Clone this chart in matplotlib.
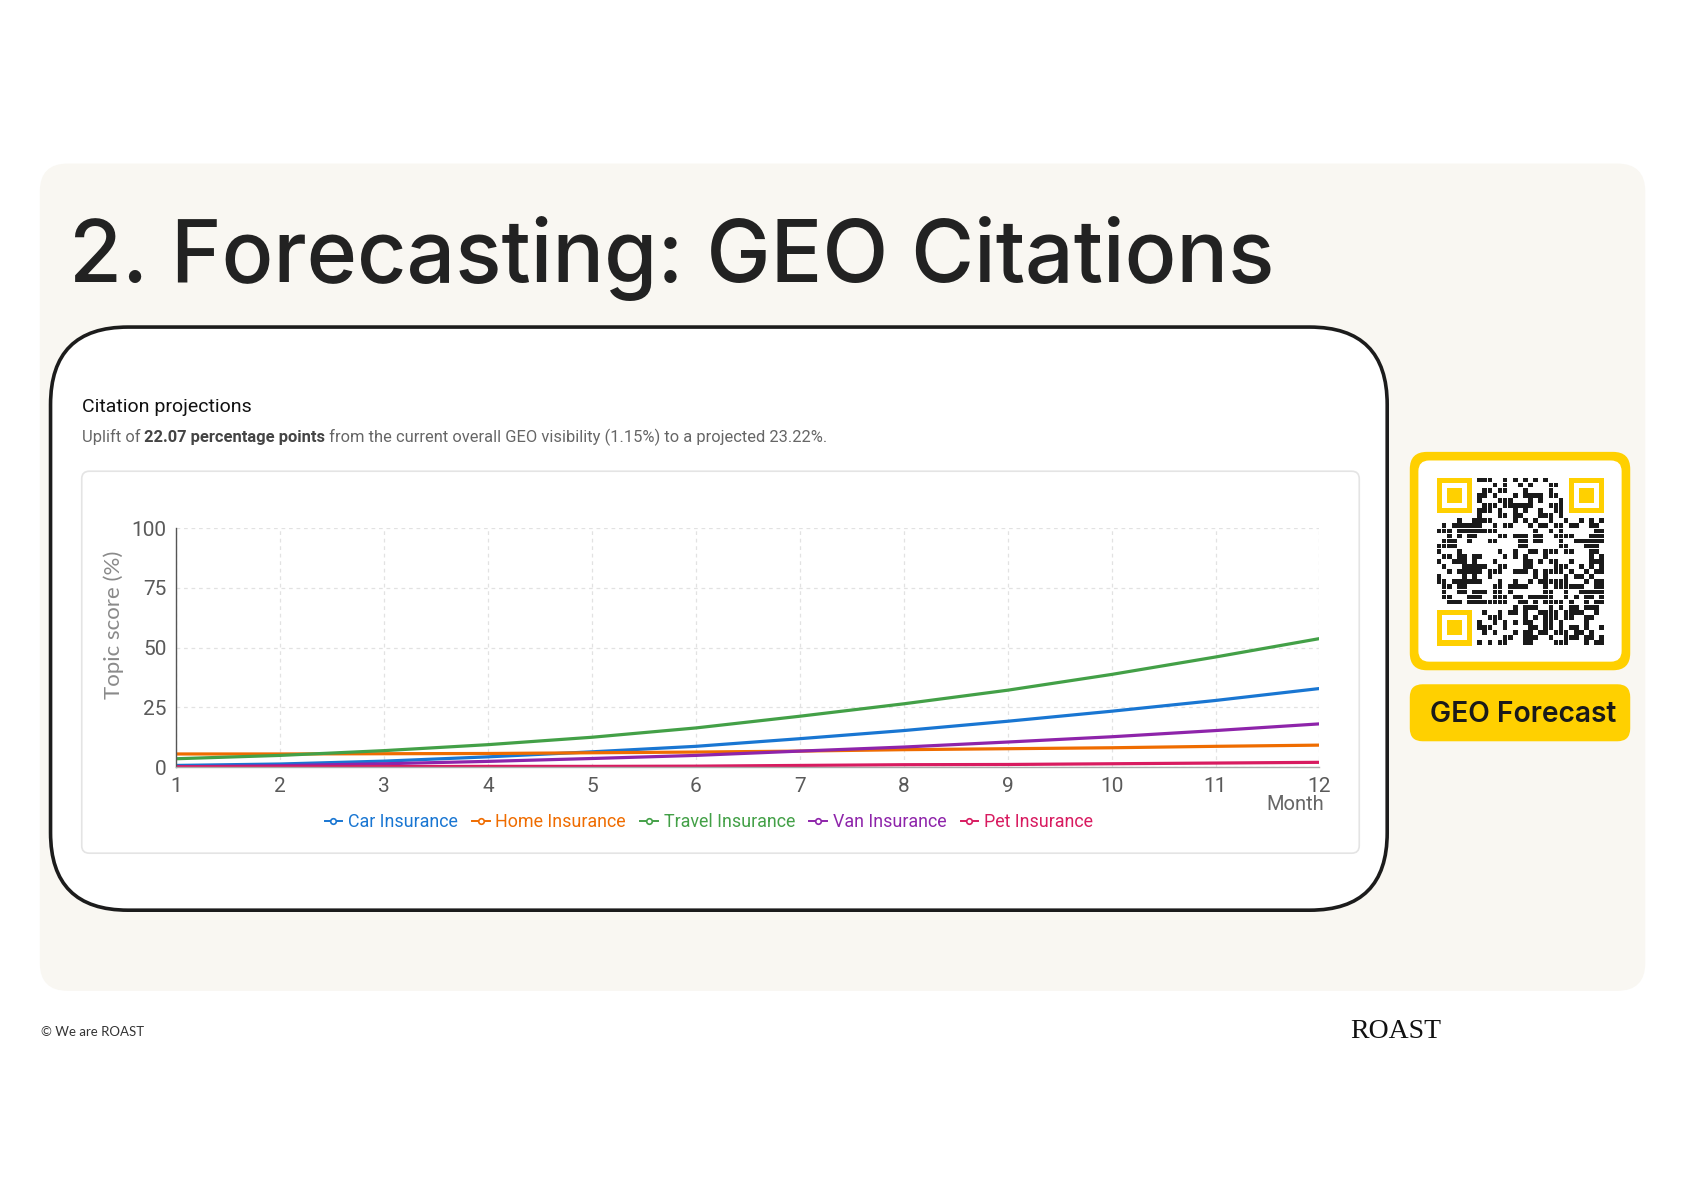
import hashlib
import numpy as np
import matplotlib
matplotlib.use("Agg")
import matplotlib.pyplot as plt
from matplotlib.patches import FancyBboxPatch, Rectangle
from matplotlib.lines import Line2D

# data
months = list(range(1, 13))
car = [0.7, 1.3, 2.5, 4.3, 6.4, 8.7, 11.9, 15.3, 19.2, 23.4, 27.9, 32.9]
home = [5.5, 5.5, 5.6, 5.7, 6.0, 6.3, 6.7, 7.3, 7.7, 8.1, 8.7, 9.2]
travel = [3.5, 4.9, 6.9, 9.4, 12.5, 16.4, 21.3, 26.5, 32.2, 38.8, 46.1, 53.8]
van = [0.1, 0.6, 1.4, 2.4, 3.6, 4.9, 6.7, 8.4, 10.5, 12.7, 15.3, 18.1]
pet = [0.1, 0.1, 0.2, 0.3, 0.3, 0.4, 0.7, 1.0, 1.1, 1.4, 1.7, 2.0]

series_names = ["Car Insurance", "Home Insurance", "Travel Insurance",
                "Van Insurance", "Pet Insurance"]
series_vals = [car, home, travel, van, pet]
series_cols = ["#1976D2", "#EF6C00", "#43A047", "#8E24AA", "#D81B60"]
yticks = [0, 25, 50, 75, 100]

# layout in reference "display" units
W, H = 1566.0, 1107.0
YELLOW = "#FFD000"
BEIGE = "#F9F7F2"

fig = plt.figure(figsize=(16.84, 11.91), dpi=100)
fig.patch.set_facecolor("white")

bg = fig.add_axes([0, 0, 1, 1])
bg.set_xlim(0, W)
bg.set_ylim(H, 0)
bg.axis("off")


def rbox(x0, y0, x1, y1, r, **kw):
    p = FancyBboxPatch((x0 + r, y0 + r), (x1 - x0) - 2 * r, (y1 - y0) - 2 * r,
                       boxstyle="round,pad=%g" % r, **kw)
    bg.add_patch(p)
    return p


# beige panel
rbox(37, 152, 1530, 921, 26, facecolor=BEIGE, edgecolor="none")
# big white card with black border
rbox(47, 304, 1290, 846, 72, facecolor="white", edgecolor="#1c1c1c", linewidth=2.6)
# inner chart card
rbox(76, 438, 1264, 793, 7, facecolor="white", edgecolor="#e4e4e4", linewidth=1.2)

# title
bg.text(64, 262, "2. Forecasting: GEO Citations", fontsize=61.8, fontfamily="Inter",
        fontweight="medium", color="#222222", va="baseline", ha="left")

# card heading and subtitle
bg.text(76, 383, "Citation projections", fontsize=14, fontfamily="Roboto",
        color="#111111", va="baseline", ha="left")

fig.canvas.draw()
rend = fig.canvas.get_renderer()
parts = [("Uplift of ", "normal", "#666666"),
         ("22.07 percentage points", "bold", "#444444"),
         (" from the current overall GEO visibility (1.15%) to a projected 23.22%.",
          "normal", "#666666")]
xcur = 76
for s, wgt, c in parts:
    t = bg.text(xcur, 411, s, fontsize=11.9, fontfamily="Roboto", fontweight=wgt,
                color=c, va="baseline", ha="left")
    bb = t.get_window_extent(renderer=rend)
    xcur += bb.width * W / fig.bbox.width

# chart axes
ax_l, ax_r, ax_t, ax_b = 164, 1227, 491, 713
ax = fig.add_axes([ax_l / W, 1 - ax_b / H, (ax_r - ax_l) / W, (ax_b - ax_t) / H])
ax.set_facecolor("none")
for name, vals, col in zip(series_names, series_vals, series_cols):
    ax.plot(months, vals, color=col, linewidth=2.3, label=name, solid_capstyle="round")
ax.set_xlim(1, 12)
ax.set_ylim(0, 100)
ax.set_xticks(months)
ax.set_yticks(yticks)
ax.grid(True, color="#e2e2e2", linestyle=(0, (3, 3)), linewidth=0.9)
ax.set_axisbelow(True)
for sp in ["top", "right"]:
    ax.spines[sp].set_visible(False)
ax.spines["left"].set_color("#555555")
ax.spines["left"].set_linewidth(1.0)
ax.spines["bottom"].set_color("#aaaaaa")
ax.spines["bottom"].set_linewidth(1.0)
ax.tick_params(length=0, pad=7, labelsize=15, labelcolor="#5a5a5a")
for lab in ax.get_xticklabels() + ax.get_yticklabels():
    lab.set_fontfamily("Roboto")

bg.text(106, 581, "Topic score (%)", rotation=90, fontsize=16, fontfamily="Lato",
        color="#8a8a8a", ha="center", va="center")
bg.text(1231, 748, "Month", fontsize=14.5, fontfamily="Roboto",
        color="#666666", ha="right", va="center")

handles = [Line2D([0], [0], color=c, linewidth=1.4, marker="o", markersize=4,
                  markerfacecolor="white", markeredgewidth=1.2)
           for c in series_cols]
leg = fig.legend(handles, series_names, loc="center",
                 bbox_to_anchor=(659 / W, 1 - 764 / H), ncol=5, frameon=False,
                 handlelength=1.0, handletextpad=0.3, columnspacing=0.8,
                 prop={"family": "Roboto", "size": 12.9})
for txt, c in zip(leg.get_texts(), series_cols):
    txt.set_color(c)

# QR box
rbox(1311, 420, 1516, 623, 16, facecolor=YELLOW, edgecolor="none")
rbox(1319, 428, 1508, 615, 10, facecolor="white", edgecolor="none")

n = 33
q0x, q0y, qs = 1336.0, 444.0, 156.0
m = qs / n
digest = b""
seed = b"GEO Forecast"
while len(digest) * 8 < n * n:
    seed = hashlib.sha256(seed).digest()
    digest += seed
bits = np.unpackbits(np.frombuffer(digest, dtype=np.uint8))[: n * n].reshape(n, n)
reserved = np.zeros((n, n), dtype=bool)
reserved[:8, :8] = True
reserved[:8, -8:] = True
reserved[-8:, :8] = True
for i in range(n):
    for j in range(n):
        if bits[i, j] and not reserved[i, j]:
            bg.add_patch(Rectangle((q0x + j * m, q0y + i * m), m * 0.92, m * 0.92,
                                   facecolor="#1a1a1a", edgecolor="none"))
for (fi, fj) in [(0, 0), (0, n - 7), (n - 7, 0)]:
    fx, fy = q0x + fj * m, q0y + fi * m
    bg.add_patch(Rectangle((fx, fy), 7 * m, 7 * m, facecolor=YELLOW, edgecolor="none"))
    bg.add_patch(Rectangle((fx + m, fy + m), 5 * m, 5 * m, facecolor="white", edgecolor="none"))
    bg.add_patch(Rectangle((fx + 2 * m, fy + 2 * m), 3 * m, 3 * m, facecolor=YELLOW,
                           edgecolor="none"))

# button
rbox(1311, 636, 1516, 689, 12, facecolor=YELLOW, edgecolor="none")
bg.text(1416, 664, "GEO Forecast", fontsize=20.3, fontfamily="Inter", fontweight="semibold",
        color="#1a1a1a", ha="center", va="center")

# footer
bg.text(38, 959, "\u00a9 We are ROAST", fontsize=9.5, fontfamily="Lato",
        color="#333333", ha="left", va="center")
bg.text(1298, 959, "ROAST", fontsize=20, fontfamily="Liberation Serif",
        color="#111111", ha="center", va="center")

fig.savefig("out.png", dpi=100, facecolor="white")
